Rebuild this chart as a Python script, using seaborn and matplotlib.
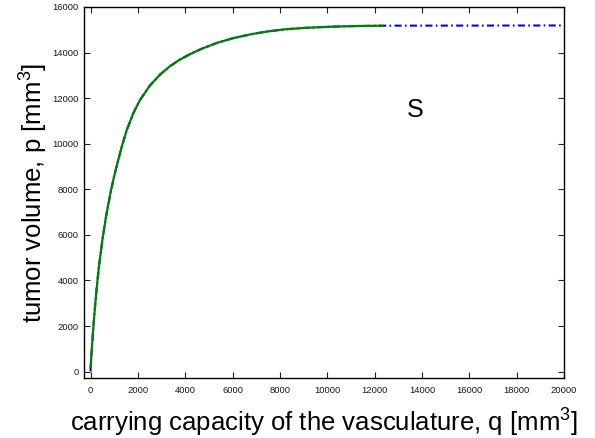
import numpy as np
import pandas as pd
import matplotlib
matplotlib.use("Agg")
import matplotlib.pyplot as plt
import seaborn as sns

# Steady-state tumour volume p against vascular carrying capacity q
capacity_q = [0, 25, 50, 90, 130, 190, 260, 350, 500, 650, 850, 1000, 1100,
              1310, 1520, 1800, 2080, 2500, 2930, 3350, 3770, 4200, 4650,
              5350, 6050, 6800, 7500, 8200, 9000, 10000, 11000, 12300]
volume_p = [200, 600, 1000, 1600, 2150, 2900, 3700, 4600, 5800, 6800, 7900,
            8600, 9020, 9850, 10580, 11330, 11910, 12550, 13030, 13400, 13690,
            13930, 14150, 14430, 14640, 14810, 14930, 15020, 15080, 15130,
            15160, 15180]

# Equilibrium branch continued over the full q range
branch_q = [0] + capacity_q + [20000]
branch_p = [0] + volume_p + [15190]

x_ticks = list(range(0, 20001, 2000))
y_ticks = list(range(0, 16001, 2000))

sns.set_style("ticks")
plt.rcParams["font.family"] = ["Liberation Sans", "DejaVu Sans"]
plt.rcParams["mathtext.fontset"] = "custom"
plt.rcParams["mathtext.rm"] = "Liberation Sans"
plt.rcParams["mathtext.it"] = "Liberation Sans:italic"
plt.rcParams["text.color"] = "black"
plt.rcParams["axes.labelcolor"] = "black"

fig = plt.figure(figsize=(5.95, 4.38), dpi=100)
ax = fig.add_axes([84 / 595, 1 - 378 / 438, 480 / 595, 371 / 438])

branch = pd.DataFrame({"q": branch_q, "p": branch_p})
curve = pd.DataFrame({"q": capacity_q, "p": volume_p})

sns.lineplot(data=branch, x="q", y="p", ax=ax, color="#0000ff", lw=1.5,
             linestyle=(0, (3.4, 1.6, 0.8, 1.6)), sort=False, estimator=None)
sns.lineplot(data=curve, x="q", y="p", ax=ax, color="#008000", lw=1.6,
             sort=False, estimator=None, solid_joinstyle="round")

ax.text(13700, 11500, "S", fontsize=18, ha="center", va="center",
        color="black")

ax.set_xlim(-280, 20000)
ax.set_ylim(-280, 16000)
ax.set_xticks(x_ticks)
ax.set_yticks(y_ticks)
ax.tick_params(direction="in", length=4, width=0.8, labelsize=6.8,
               top=True, right=True, colors="#222222", labelcolor="#1a1a1a",
               pad=4)
ax.tick_params(axis="x", pad=6)
for s in ax.spines.values():
    s.set_visible(True)
    s.set_color("black")
    s.set_linewidth(1.0)

ax.set_xlabel(r"carrying capacity of the vasculature, q [mm$^{3}$]",
              fontsize=18.5, labelpad=8.5)
ax.set_ylabel(r"tumor volume, p [mm$^{3}$]", fontsize=18.5, labelpad=1.5)

fig.savefig("out.png", dpi=100)
